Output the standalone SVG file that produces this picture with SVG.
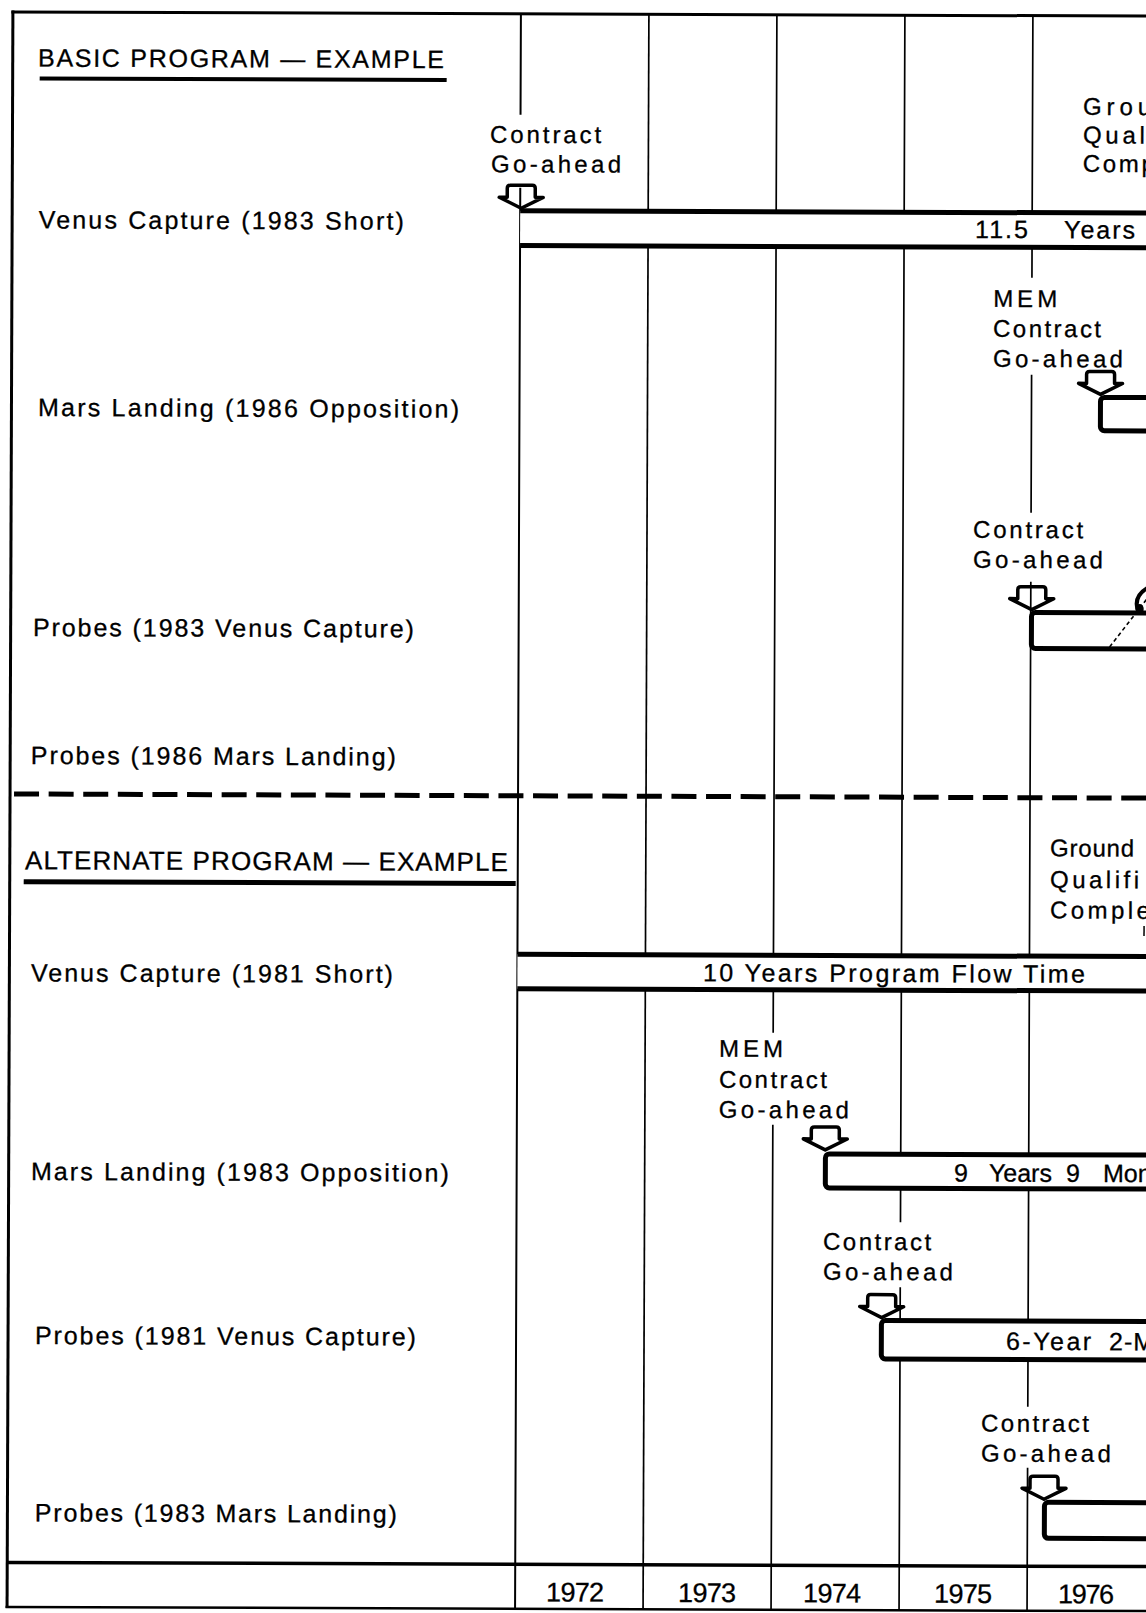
<svg xmlns="http://www.w3.org/2000/svg" width="1146" height="1613" viewBox="0 0 1146 1613">
<style>
.t{font-family:"Liberation Sans",Arial,sans-serif;font-size:25px;fill:#000;stroke:#000;stroke-width:0.3}
.h{font-family:"Liberation Sans",Arial,sans-serif;font-size:26px;fill:#000;stroke:#000;stroke-width:0.3}
.c{font-family:"Liberation Sans",Arial,sans-serif;font-size:24px;fill:#000;stroke:#000;stroke-width:0.3}
.b{font-family:"Liberation Sans",Arial,sans-serif;font-size:25px;fill:#000;stroke:#000;stroke-width:0.3}
.y{font-family:"Liberation Sans",Arial,sans-serif;font-size:27px;fill:#000;stroke:#000;stroke-width:0.3;text-anchor:middle}
.g{stroke:#000;stroke-width:1.7;fill:none}
.bl{stroke:#000;stroke-width:5;fill:none}
.bar{fill:#fff;stroke:#000;stroke-width:5}
.mk{fill:none;stroke:#000;stroke-width:3.5;stroke-linejoin:round}
</style>
<defs>
<path id="gm" d="M0,0 L-22,-11 L-14,-11 L-14,-20 Q-14,-23 -11,-23 L11,-23 Q14,-23 14,-20 L14,-11 L22,-11 Z"/>
</defs>
<rect width="1146" height="1613" fill="#fff"/>
<g transform="rotate(0.21 573 806)">
<g id="frame">
<line x1="8.5" y1="14" x2="1175" y2="14" stroke="#000" stroke-width="3"/>
<line x1="10" y1="12.5" x2="10" y2="1610" stroke="#000" stroke-width="3"/>
<line x1="8.5" y1="1609" x2="1175" y2="1609" stroke="#000" stroke-width="2.5"/>
<line x1="10" y1="1564.5" x2="1175" y2="1564.5" stroke="#000" stroke-width="3.5"/>
</g>
<g id="grid">
<path class="g" style="stroke-width:2" d="M518,14V115M518,188V1609"/>
<path class="g" d="M646,14V1609"/>
<path class="g" d="M774,14V1032M774,1124V1609"/>
<path class="g" d="M902,14V1221M902,1286V1609"/>
<path class="g" d="M1030,14V276M1030,373V511M1030,580V1405M1030,1466V1609"/>
</g>
<g id="separator">
<line x1="14" y1="796" x2="1175" y2="796" stroke="#000" stroke-width="5" stroke-dasharray="25 9.6"/>
</g>
<g id="years">
<text class="y" x="578" y="1601.5" textLength="58">1972</text>
<text class="y" x="710" y="1601.5" textLength="58">1973</text>
<text class="y" x="835" y="1601.5" textLength="58">1974</text>
<text class="y" x="966" y="1601.5" textLength="58">1975</text>
<text class="y" x="1089" y="1601.5" textLength="56">1976</text>
</g>
<g id="basic-heading">
<text class="t" x="35.3" y="68.5" textLength="406">BASIC PROGRAM — EXAMPLE</text>
<line x1="37" y1="80.5" x2="444" y2="80.5" stroke="#000" stroke-width="4"/>
</g>
<g id="alternate-heading">
<text class="h" x="25.2" y="871.2" textLength="483">ALTERNATE PROGRAM — EXAMPLE</text>
<line x1="24" y1="883.7" x2="516" y2="883.7" stroke="#000" stroke-width="5"/>
</g>
<g id="row-labels">
<text class="t" x="36.7" y="230.3" textLength="365">Venus Capture (1983 Short)</text>
<text class="t" x="36.6" y="418" textLength="421">Mars Landing (1986 Opposition)</text>
<text class="t" x="32.3" y="638" textLength="381">Probes (1983 Venus Capture)</text>
<text class="t" x="30.7" y="766" textLength="365">Probes (1986 Mars Landing)</text>
<text class="t" x="31.6" y="983.4" textLength="362">Venus Capture (1981 Short)</text>
<text class="t" x="32.3" y="1182" textLength="418">Mars Landing (1983 Opposition)</text>
<text class="t" x="36.9" y="1346" textLength="381">Probes (1981 Venus Capture)</text>
<text class="t" x="37.5" y="1523.3" textLength="362">Probes (1983 Mars Landing)</text>
</g>
<g id="basic-venus">
<rect x="518" y="211" width="660" height="34.7" fill="#fff"/>
<line class="bl" x1="518" y1="211" x2="1178" y2="211"/>
<line class="bl" x1="518" y1="245.7" x2="1178" y2="245.7"/>
<text class="b" y="236.5" style="letter-spacing:2px"><tspan x="973">11.5 </tspan><tspan x="1062">Years</tspan></text>
<text class="c" x="487.7" y="143" textLength="111">Contract</text>
<text class="c" x="488.7" y="172.5" textLength="130">Go-ahead</text>
<use href="#gm" class="mk" x="519" y="208.5"/>
<text class="c" x="1080.5" y="113" textLength="68">Grou</text>
<text class="c" x="1080.5" y="141.5" textLength="62">Qual</text>
<text class="c" x="1080.5" y="170" textLength="72">Comp</text>
</g>
<g id="basic-mars">
<rect class="bar" x="1099" y="395.5" width="120" height="33.3" rx="4"/>
<text class="c" x="991.3" y="305.3" textLength="64">MEM</text>
<text class="c" x="991.3" y="335.3" textLength="108">Contract</text>
<text class="c" x="991.3" y="365.3" textLength="130">Go-ahead</text>
<use href="#gm" class="mk" x="1099" y="392.5"/>
</g>
<g id="basic-probes-venus">
<rect class="bar" x="1030.8" y="610.8" width="200" height="36" rx="4"/>
<text class="c" x="972.1" y="536.3" textLength="110">Contract</text>
<text class="c" x="972.1" y="566.3" textLength="130">Go-ahead</text>
<use href="#gm" class="mk" x="1031" y="608"/>
<path d="M1148,585 Q1131,594 1138,611" fill="none" stroke="#000" stroke-width="4"/>
<ellipse cx="1139" cy="607" rx="4" ry="5" fill="#000"/>
</g>
<g id="alt-venus">
<rect x="518" y="954.5" width="660" height="34.5" fill="#fff"/>
<line class="bl" x1="518" y1="954.5" x2="1178" y2="954.5"/>
<line class="bl" x1="518" y1="989" x2="1178" y2="989"/>
<text class="b" x="703.6" y="980.8" textLength="382">10 Years Program Flow Time</text>
<text class="c" x="1050.3" y="854.6" textLength="84">Ground</text>
<text class="c" x="1050.3" y="886.1" textLength="89">Qualifi</text>
<text class="c" x="1050.3" y="916.6" textLength="100">Comple</text>
<line x1="1144.5" y1="924" x2="1144.5" y2="934" stroke="#000" stroke-width="1.5"/>
</g>
<g id="alt-mars">
<rect class="bar" x="826.7" y="1153" width="400" height="34" rx="4"/>
<text class="b" y="1180"><tspan x="955.3">9 </tspan><tspan x="990.3">Years </tspan><tspan x="1067.3">9 </tspan><tspan x="1104.3">Mon</tspan></text>
<text class="c" x="720" y="1056.2" textLength="64">MEM</text>
<text class="c" x="720" y="1087.2" textLength="108">Contract</text>
<text class="c" x="720" y="1117.2" textLength="130">Go-ahead</text>
<use href="#gm" class="mk" x="826.5" y="1149"/>
</g>
<g id="alt-probes-venus">
<rect class="bar" x="883.3" y="1319.4" width="400" height="38.4" rx="4"/>
<text class="b" y="1348.2"><tspan x="1007.9" style="letter-spacing:2.5px">6-Year </tspan><tspan x="1111" style="letter-spacing:1px">2-M</tspan></text>
<text class="c" x="824.7" y="1248.9" textLength="108">Contract</text>
<text class="c" x="824.7" y="1278.9" textLength="130">Go-ahead</text>
<use href="#gm" class="mk" x="883.5" y="1316.5"/>
</g>
<g id="alt-probes-mars">
<rect class="bar" x="1047" y="1500.6" width="200" height="36" rx="4"/>
<text class="c" x="983.3" y="1430" textLength="108">Contract</text>
<text class="c" x="983.3" y="1460" textLength="130">Go-ahead</text>
<use href="#gm" class="mk" x="1046.5" y="1497.5"/>
</g>
<g id="connectors">
<line x1="1109" y1="645" x2="1146" y2="597" stroke="#000" stroke-width="1.6" stroke-dasharray="4 3"/>
</g>
</g>
</svg>
